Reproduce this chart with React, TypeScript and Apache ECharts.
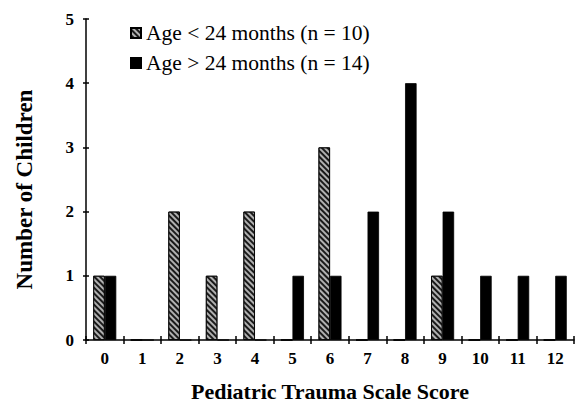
import React, { useEffect, useRef } from "react";
import * as echarts from "echarts";

const categories = ["0", "1", "2", "3", "4", "5", "6", "7", "8", "9", "10", "11", "12"];
const youngName = "Age < 24 months (n = 10)";
const olderName = "Age > 24 months (n = 14)";
const youngValues = [1, 0, 2, 1, 2, 0, 3, 0, 0, 1, 0, 0, 0];
const olderValues = [1, 0, 0, 0, 0, 1, 1, 2, 4, 2, 1, 1, 1];
const yTicks = { min: 0, max: 5, interval: 1 };

const FONT = "'Liberation Serif', 'Times New Roman', serif";

export default function App() {
  const ref = useRef<HTMLDivElement>(null);
  useEffect(() => {
    if (!ref.current) return;
    const chart = echarts.init(ref.current, undefined, { renderer: "svg" });
    const axisLine = { show: true, lineStyle: { color: "#000", width: 1.5 } };
    const option: any = {
      animation: false,
      backgroundColor: "#fff",
      grid: { left: 86, right: 1, top: 19, bottom: 64, containLabel: false },
      legend: {
        orient: "vertical",
        left: 125,
        top: 17,
        icon: "rect",
        itemWidth: 10,
        itemHeight: 10,
        itemGap: 8,
        textStyle: { fontFamily: FONT, fontSize: 21.5, color: "#000" },
        data: [youngName, olderName],
      },
      xAxis: [
        {
          type: "category",
          data: categories,
          boundaryGap: true,
          axisLine,
          axisTick: { show: true, length: 4, lineStyle: { color: "#000", width: 1.5 } },
          axisLabel: { margin: 10, fontFamily: FONT, fontSize: 17, fontWeight: "bold", color: "#000" },
          name: "Pediatric Trauma Scale Score",
          nameLocation: "middle",
          nameGap: 40,
          nameTextStyle: { fontFamily: FONT, fontSize: 22, fontWeight: "bold", color: "#000" },
          splitLine: { show: false },
        },
        {
          type: "category",
          data: categories,
          boundaryGap: true,
          position: "bottom",
          axisLine: { show: false },
          axisTick: { show: true, inside: true, length: 4, lineStyle: { color: "#000", width: 1.5 } },
          axisLabel: { show: false },
          splitLine: { show: false },
        },
      ],
      yAxis: [
        {
          type: "value",
          min: yTicks.min,
          max: yTicks.max,
          interval: yTicks.interval,
          axisLine,
          axisTick: { show: true, length: 3, lineStyle: { color: "#000", width: 1.5 } },
          axisLabel: { margin: 12, fontFamily: FONT, fontSize: 17, fontWeight: "bold", color: "#000" },
          splitLine: { show: false },
          name: "Number of Children",
          nameLocation: "middle",
          nameGap: 50,
          nameRotate: 90,
          nameTextStyle: {
            fontFamily: FONT,
            fontSize: 23,
            fontWeight: "bold",
            color: "#000",
            padding: [0, 20, 0, 0],
          },
        },
        {
          type: "value",
          min: yTicks.min,
          max: yTicks.max,
          interval: yTicks.interval,
          position: "left",
          axisLine: { show: false },
          axisTick: { show: true, inside: true, length: 3, lineStyle: { color: "#000", width: 1.5 } },
          axisLabel: { show: false },
          splitLine: { show: false },
        },
      ],
      series: [
        {
          name: youngName,
          type: "bar",
          data: youngValues,
          barWidth: 11.5,
          barGap: "0%",
          itemStyle: {
            color: "#b0b0b0",
            borderColor: "#000",
            borderWidth: 0.8,
            decal: {
              symbol: "rect",
              symbolSize: 1,
              dashArrayX: [1, 0],
              dashArrayY: [1.6, 1.6],
              rotation: Math.PI / 4,
              color: "#1a1a1a",
            },
          },
        },
        {
          name: olderName,
          type: "bar",
          data: olderValues,
          barWidth: 11.5,
          barGap: "0%",
          itemStyle: { color: "#000", borderColor: "#000", borderWidth: 0.8 },
        },
      ],
    };
    chart.setOption(option);
    return () => chart.dispose();
  }, []);
  return (
    <div
      ref={ref}
      style={{ position: "fixed", left: 0, top: 0, width: 575, height: 407, background: "#fff" }}
    />
  );
}
